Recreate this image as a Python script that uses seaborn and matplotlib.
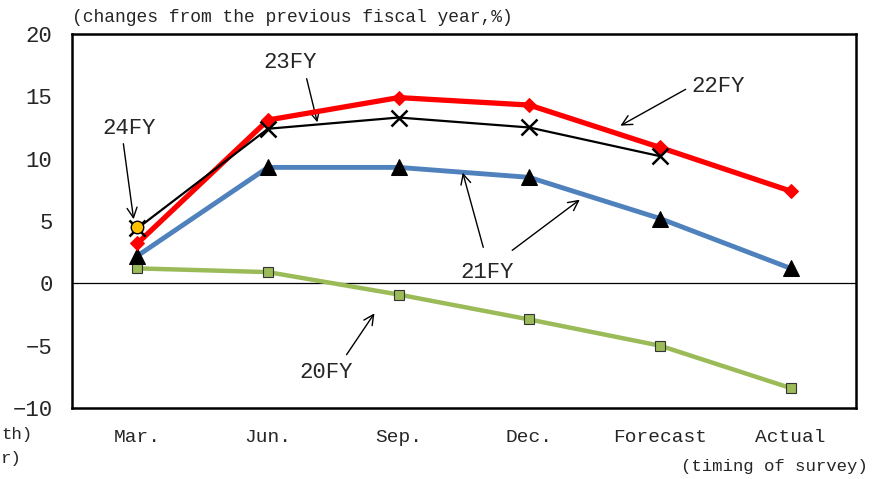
import matplotlib
matplotlib.use("Agg")
import matplotlib.pyplot as plt
import seaborn as sns
import pandas as pd

categories = ["Mar.", "Jun.", "Sep.", "Dec.", "Forecast", "Actual"]
fy20 = [1.2, 0.9, -0.9, -2.9, -5.0, -8.4]
fy21 = [2.2, 9.3, 9.3, 8.5, 5.2, 1.2]
fy22 = [3.2, 13.1, 14.9, 14.3, 10.9, 7.4]
fy23 = [4.4, 12.4, 13.3, 12.5, 10.2]
fy24 = [4.5]
yticks = [-10, -5, 0, 5, 10, 15, 20]

sns.set_theme(style="white")
FONT = ["Liberation Mono", "DejaVu Sans Mono"]
plt.rcParams["font.family"] = FONT

fig = plt.figure(figsize=(8.78, 4.79), dpi=100)
ax = fig.add_axes([72/878, 1-408/479, (856-72)/878, (408-34)/479])

def df_of(vals):
    return pd.DataFrame({"x": list(range(len(vals))), "y": vals})

ax.axhline(0, color="black", lw=0.9, zorder=1)

sns.lineplot(data=df_of(fy20), x="x", y="y", ax=ax, color="#9BBB59", lw=3.2,
             marker="s", markersize=7, markerfacecolor="#9BBB59",
             markeredgecolor="#333333", markeredgewidth=0.8, zorder=2)
sns.lineplot(data=df_of(fy21), x="x", y="y", ax=ax, color="#4F81BD", lw=3.5,
             marker="^", markersize=12, markerfacecolor="black",
             markeredgecolor="black", zorder=3)
sns.lineplot(data=df_of(fy22), x="x", y="y", ax=ax, color="#FF0000", lw=3.8,
             marker="D", markersize=7, markerfacecolor="#FF0000",
             markeredgecolor="#FF0000", zorder=4)
sns.lineplot(data=df_of(fy23), x="x", y="y", ax=ax, color="black", lw=1.6,
             marker="x", markersize=11, markeredgewidth=1.8,
             markeredgecolor="black", markerfacecolor="black", zorder=5)
sns.lineplot(data=df_of(fy24), x="x", y="y", ax=ax, color="black", lw=0,
             marker="o", markersize=9, markerfacecolor="#FFC000",
             markeredgecolor="black", markeredgewidth=1.0, zorder=6)

ax.set_xlim(-0.5, 5.5)
ax.set_ylim(-10, 20)
ax.set_xticks(range(len(categories)))
ax.set_xticklabels(categories, fontsize=14)
ax.set_yticks(yticks)
ax.set_yticklabels([str(t).replace("-", "\u2212") for t in yticks], fontsize=16)
ax.tick_params(axis="x", length=0, pad=15)
ax.tick_params(axis="y", length=0, pad=14)
ax.set_xlabel("")
ax.set_ylabel("")
for s in ax.spines.values():
    s.set_color("black")
    s.set_linewidth(1.8)

def px(xp, yp):
    return (xp/878, 1-yp/479)

fig.text(*px(72, 18), "(changes from the previous fiscal year,%)", fontsize=13,
         ha="left", va="center")
fig.text(*px(868, 466), "(timing of survey)", fontsize=12.5, ha="right", va="center")
fig.text(*px(1, 435), "th)", fontsize=12.5, ha="left", va="center")
fig.text(*px(1, 458), "r)", fontsize=12.5, ha="left", va="center")

arrow = dict(arrowstyle="->", color="black", lw=1.0, mutation_scale=18)

def label(text, tx, ty):
    ax.annotate(text, xy=(tx, 479-ty), xycoords="figure pixels",
                fontsize=16, ha="center", va="center")

def arr(x0, y0, x1, y1):
    ax.annotate("", xy=(x1, 479-y1), xytext=(x0, 479-y0), xycoords="figure pixels",
                textcoords="figure pixels", arrowprops=arrow)

label("24FY", 129, 128)
arr(123, 141, 134, 222)
label("23FY", 290, 62)
arr(306, 76, 318, 125)
label("22FY", 718, 86)
arr(688, 88, 618, 127)
label("21FY", 487, 273)
arr(484, 250, 462, 170)
arr(510, 252, 582, 198)
label("20FY", 326, 373)
arr(345, 357, 376, 311)

fig.savefig("out.png", dpi=100)
